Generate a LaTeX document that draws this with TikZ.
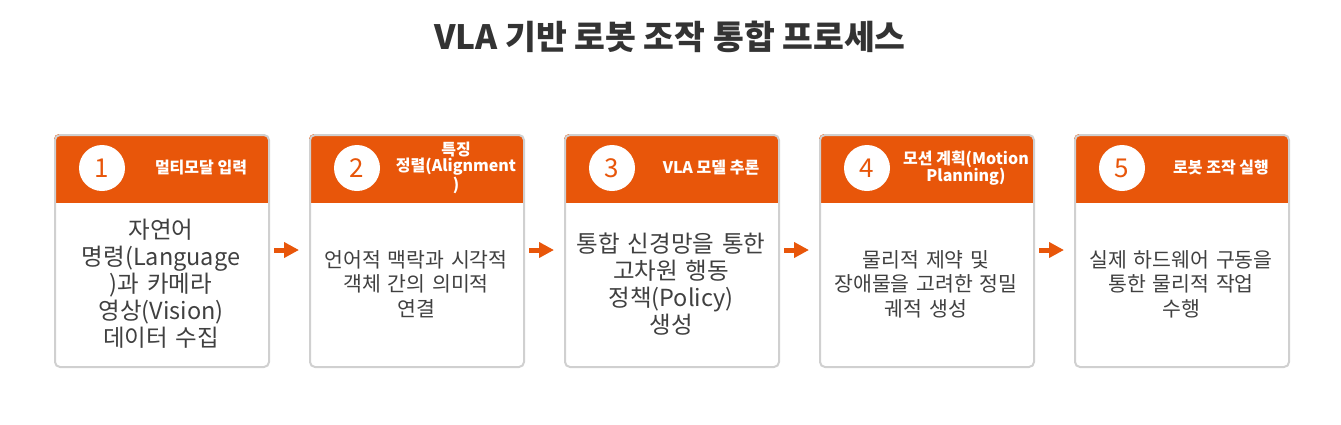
\documentclass[tikz,border=0pt]{standalone}
\usepackage{fontspec}
\setmainfont{Noto Sans CJK KR}
\usetikzlibrary{arrows.meta}
\definecolor{org}{HTML}{E8560A}
\definecolor{bordergray}{HTML}{D0D0D0}
\definecolor{bodytext}{HTML}{404040}
\definecolor{titletext}{HTML}{333333}
\tikzset{
  cardbox/.style={draw=bordergray, line width=2pt, rounded corners=5pt, minimum width=214pt, minimum height=232pt, inner sep=0pt, anchor=north west},
  numcircle/.style={circle, fill=white, minimum size=46pt, inner sep=0pt, text=org, font=\fontsize{26}{26}\selectfont},
  headtext/.style={text=white, align=center, inner sep=0pt, font=\fontsize{16}{16}\selectfont\bfseries},
  bodybig/.style={text=bodytext, align=center, text width=200pt, inner sep=0pt, font=\fontsize{23.5}{27}\selectfont},
  bodysmall/.style={text=bodytext, align=center, text width=200pt, inner sep=0pt, font=\fontsize{20.5}{24.5}\selectfont},
  flowarrow/.style={draw=org, line width=5pt, -{Triangle[length=15pt,width=15pt]}, shorten <=4pt, shorten >=10pt}
}
\begin{document}
\begin{tikzpicture}[x=1pt,y=-1pt]
\useasboundingbox (0,0) rectangle (1341,424);
\node[text=titletext, font=\fontsize{33.5}{36}\selectfont\bfseries] (title) at (670,37) {VLA 기반 로봇 조작 통합 프로세스};

\foreach \i/\htxt/\btxt/\bsty in {
  1/{멀티모달 입력}/{자연어\\명령(Language\\)과 카메라\\영상(Vision)\\데이터 수집}/bodybig,
  2/{특징\\정렬(Alignment\\)}/{언어적 맥락과 시각적\\객체 간의 의미적\\연결}/bodysmall,
  3/{VLA 모델 추론}/{통합 신경망을 통한\\고차원 행동\\정책(Policy)\\생성}/bodybig,
  4/{모션 계획(Motion\\Planning)}/{물리적 제약 및\\장애물을 고려한 정밀\\궤적 생성}/bodysmall,
  5/{로봇 조작 실행}/{실제 하드웨어 구동을\\통한 물리적 작업\\수행}/bodysmall}{
  \pgfmathsetmacro{\bx}{54+255*(\i-1)}
  \begin{scope}
    \clip[rounded corners=5pt] (\bx,134) rectangle ++(214,232);
    \fill[white] (\bx,134) rectangle ++(214,232);
    \fill[org] (\bx,134) rectangle ++(214,69);
  \end{scope}
  \node[cardbox] (b\i) at (\bx,134) {};
  \node[numcircle] (c\i) at (\bx+48,168) {\i};
  \node[headtext] (h\i) at (\bx+147,168) {\htxt};
  \node[\bsty] (t\i) at (\bx+107,284) {\btxt};
}
\foreach \a/\b in {1/2,2/3,3/4,4/5}{
  \draw[flowarrow] (b\a.east) ++(0,-1) coordinate (s\a) (s\a) -- (s\a -| b\b.west);
}
\end{tikzpicture}
\end{document}
